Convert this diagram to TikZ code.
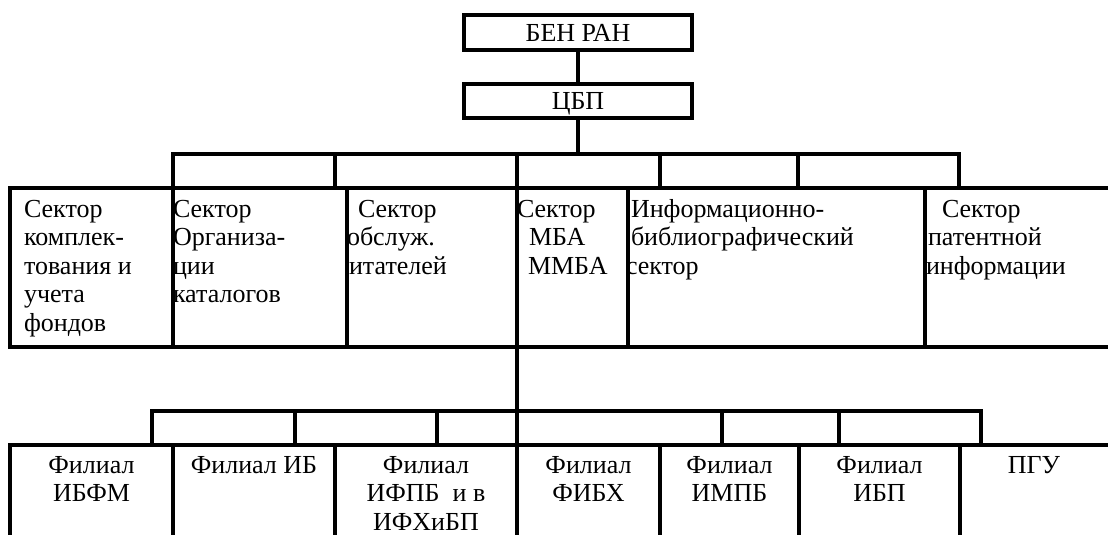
\documentclass[tikz,border=0pt]{standalone}
\usepackage{fontspec}
\setmainfont{Liberation Serif}
\newcommand\tf{\fontsize{26}{28.5}\selectfont}
\begin{document}
\begin{tikzpicture}[x=1pt,y=-1pt,
  ln/.style={line width=3.8pt},
  cell/.style={rectangle, inner sep=0pt, outer sep=0pt},
  box/.style={draw, line width=3.8pt, rectangle, inner sep=0pt, outer sep=0pt,
    minimum width=228pt, font=\tf, text height=17.2pt, text depth=0pt},
  lbl/.style={inner sep=0pt, outer sep=0pt, anchor=north west, align=left, font=\tf},
  ctr/.style={inner sep=0pt, outer sep=0pt, anchor=north, align=center, font=\tf}]
\useasboundingbox (0,0) rectangle (1108,535);
% top boxes
\node[box, minimum height=35pt] (ben) at (578,32.5) {БЕН РАН};
\node[box, minimum height=34pt] (cbp) at (578,101) {ЦБП};
% sector cells
\node[cell, minimum width=163pt, minimum height=159pt] (s1) at (91.5,267.5) {};
\node[cell, minimum width=174pt, minimum height=159pt] (s2) at (260,267.5) {};
\node[cell, minimum width=170pt, minimum height=159pt] (s3) at (432,267.5) {};
\node[cell, minimum width=111pt, minimum height=159pt] (s4) at (572.5,267.5) {};
\node[cell, minimum width=297pt, minimum height=159pt] (s5) at (776.5,267.5) {};
\node[cell, minimum width=190pt, minimum height=159pt] (s6) at (1020,267.5) {};
% branch cells
\node[cell, minimum width=163pt, minimum height=100pt] (f1) at (91.5,495) {};
\node[cell, minimum width=162pt, minimum height=100pt] (f2) at (254,495) {};
\node[cell, minimum width=182pt, minimum height=100pt] (f3) at (426,495) {};
\node[cell, minimum width=143pt, minimum height=100pt] (f4) at (588.5,495) {};
\node[cell, minimum width=139pt, minimum height=100pt] (f5) at (729.5,495) {};
\node[cell, minimum width=161pt, minimum height=100pt] (f6) at (879.5,495) {};
\node[cell, minimum width=155pt, minimum height=100pt] (f7) at (1037.5,495) {};
% sector texts
\begin{scope}
\clip (s1.south west) rectangle (s1.north east);
\node[lbl] (s1t) at (24,197.05) {\strut Сектор\\комплек-\\тования и\\учета\\фондов};
\end{scope}
\begin{scope}
\clip (s2.south west) rectangle (s2.north east);
\node[lbl] (s2t) at (173,197.05) {\strut Сектор\\Организа-\\ции\\каталогов};
\end{scope}
\begin{scope}
\clip (s3.south west) rectangle (s3.north east);
\node[lbl] (s3t) at (336,197.05) {\strut\hspace*{22pt}Сектор\\\hspace*{11pt}обслуж.\\читателей};
\end{scope}
\begin{scope}
\clip (s4.south west) rectangle (s4.north east);
\node[lbl] (s4t) at (517,197.05) {\strut Сектор\\\hspace*{12pt}МБА\\\hspace*{11pt}ММБА};
\end{scope}
\begin{scope}
\clip (s5.south west) rectangle (s5.north east);
\node[lbl] (s5t) at (626,197.05) {\strut\hspace*{5pt}Информационно-\\\hspace*{5pt}библиографический\\сектор};
\end{scope}
\begin{scope}
\clip (s6.south west) rectangle (s6.north east);
\node[lbl] (s6t) at (926,197.05) {\strut\hspace*{16pt}Сектор\\\hspace*{2pt}патентной\\информации};
\end{scope}
% branch texts
\node[ctr] (f1t) at (91.5,453.05) {\strut Филиал\\ИБФМ};
\node[ctr] (f2t) at (254,453.05) {\strut Филиал ИБ};
\node[ctr] (f3t) at (426,453.05) {\strut Филиал\\ИФПБ\ \ и в\\ИФХиБП};
\node[ctr] (f4t) at (588.5,453.05) {\strut Филиал\\ФИБХ};
\node[ctr] (f5t) at (729.5,453.05) {\strut Филиал\\ИМПБ};
\node[ctr] (f6t) at (879.5,453.05) {\strut Филиал\\ИБП};
\node[ctr] (f7t) at (1034,453.05) {\strut ПГУ};
% cell borders
\foreach \c in {s1,s2,s3,s4,s5,s6,f1,f2,f3,f4,f5,f6,f7}
  \draw[ln] (\c.south west) rectangle (\c.north east);
% connectors top
\draw[ln] (ben.south) -- (cbp.north);
\coordinate (j1) at (578,154);
\draw[ln] (cbp.south) -- (j1);
\coordinate (k1) at (173,188);
\coordinate (k2) at (335,188);
\coordinate (k3) at (517,188);
\coordinate (k4) at (660,188);
\coordinate (k5) at (798,188);
\coordinate (k6) at (959,188);
\draw[ln] (k1) |- (j1) -| (k6);
\foreach \k in {k2,k3,k4,k5} \draw[ln] (\k) -- (\k |- j1);
% connectors bottom
\coordinate (j2) at (517,411);
\draw[ln] (s4.south west) -- (j2);
\coordinate (m1) at (152,445);
\coordinate (m2) at (295,445);
\coordinate (m3) at (437,445);
\coordinate (m4) at (517,445);
\coordinate (m5) at (722,445);
\coordinate (m6) at (839,445);
\coordinate (m7) at (981,445);
\draw[ln] (m1) |- (j2) -| (m7);
\foreach \m in {m2,m3,m4,m5,m6} \draw[ln] (\m) -- (\m |- j2);
\end{tikzpicture}
\end{document}
